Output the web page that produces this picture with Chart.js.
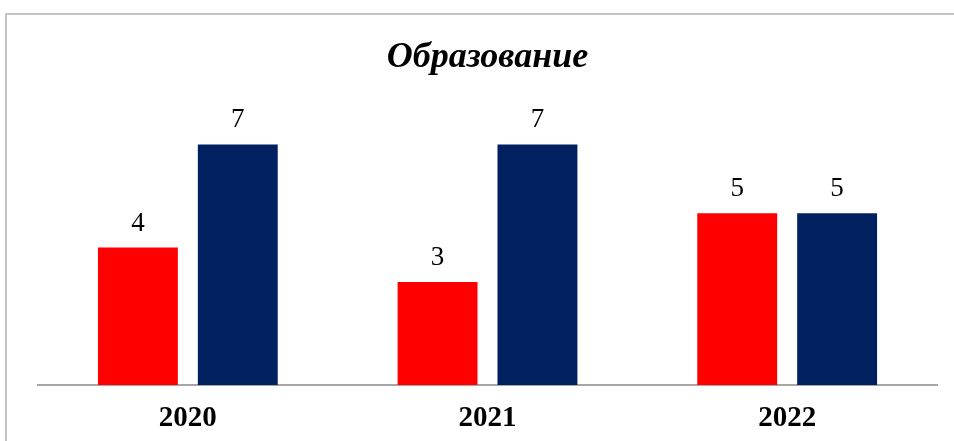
<!DOCTYPE html>
<html><head><meta charset="utf-8">
<script src="https://cdn.jsdelivr.net/npm/chart.js@4"></script>
<style>
html,body{margin:0;padding:0;background:#fff;width:954px;height:441px;overflow:hidden;}
#frame{position:absolute;left:5px;top:13px;width:1000px;height:500px;border-top:2px solid #c4c4c4;border-left:2px solid #c4c4c4;box-sizing:border-box;}
#wrap{position:absolute;left:0;top:0;width:954px;height:441px;}
</style></head>
<body>
<div id="frame"></div>
<div id="wrap"><canvas id="c" width="954" height="441"></canvas></div>
<script>
const categories = ['2020', '2021', '2022'];
const seriesRed = [4, 3, 5];
const seriesBlue = [7, 7, 5];
const titleText = 'Образование';

const valueLabels = {
  id: 'valueLabels',
  afterDatasetsDraw(chart) {
    const ctx = chart.ctx;
    ctx.save();
    ctx.fillStyle = '#000';
    ctx.font = '27px "Liberation Serif", "Times New Roman", serif';
    ctx.textAlign = 'center';
    ctx.textBaseline = 'alphabetic';
    chart.data.datasets.forEach((ds, i) => {
      chart.getDatasetMeta(i).data.forEach((el, j) => {
        ctx.fillText(String(ds.data[j]), el.x, el.y - 17);
      });
    });
    ctx.restore();
  }
};

new Chart(document.getElementById('c'), {
  type: 'bar',
  data: {
    labels: categories,
    datasets: [
      { data: seriesRed, backgroundColor: '#ff0000', borderWidth: 0 },
      { data: seriesBlue, backgroundColor: '#002060', borderWidth: 0 }
    ]
  },
  options: {
    responsive: false,
    animation: false,
    events: [],
    categoryPercentage: 2/3,
    barPercentage: 0.8,
    layout: { padding: { left: 38, right: 17, top: 0, bottom: 8 } },
    plugins: {
      legend: { display: false },
      tooltip: { enabled: false },
      title: {
        display: true,
        text: titleText,
        color: '#000',
        font: { family: '"Liberation Serif", "Times New Roman", serif', size: 36, style: 'italic', weight: 'bold', lineHeight: 1.2 },
        padding: { top: 36, bottom: 30.8 }
      }
    },
    scales: {
      x: {
        grid: { display: false, drawTicks: false },
        border: { display: true, color: '#a6a6a6', width: 2 },
        afterFit(scale) { scale.height = 48; },
        ticks: { color: '#000', padding: 16, font: { family: '"Liberation Serif", "Times New Roman", serif', size: 29, weight: 'bold', lineHeight: 1.2 } }
      },
      y: {
        display: false,
        min: 0, max: 8
      }
    }
  },
  plugins: [valueLabels]
});
</script>
</body></html>
